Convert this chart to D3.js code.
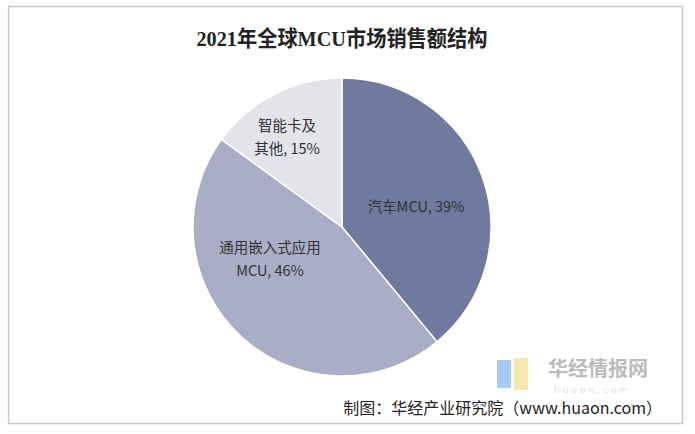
<!DOCTYPE html>
<html><head><meta charset="utf-8">
<script src="https://cdn.jsdelivr.net/npm/d3@7"></script>
<style>body{margin:0;background:#fff;}</style>
</head><body>
<script>
var labels = [["汽车MCU, 39%"], ["通用嵌入式应用", "MCU, 46%"], ["智能卡及", "其他, 15%"]];
var values = [39, 46, 15];
var colors = ["#6f7a9e", "#a9aec6", "#e3e4ea"];

var svg = d3.select("body").append("svg").attr("width", 695).attr("height", 434);

svg.append("rect").attr("x", 8.5).attr("y", 6.5).attr("width", 674).attr("height", 417)
	.attr("fill", "#fff").style("stroke", "#c8c8c8").style("stroke-width", 1.5);

svg.append("text").attr("x", 342).attr("y", 46).attr("text-anchor", "middle")
	.attr("font-family", "Liberation Serif, Noto Sans CJK SC").attr("font-weight", "bold")
	.style("font-size", "22px").attr("fill", "#222")
	.attr("transform", "translate(342,0) scale(0.92,1) translate(-342,0)")
	.text("2021年全球MCU市场销售额结构");

var cx = 342, cy = 227, r = 149;
var pie = d3.pie().sort(null)(values);
var arc = d3.arc().innerRadius(0).outerRadius(r);
var g = svg.append("g").attr("transform", "translate(" + cx + "," + cy + ")");
g.selectAll("path").data(pie).enter().append("path")
	.attr("d", arc).attr("fill", function(d, i){ return colors[i]; })
	.style("stroke", "#fff").style("stroke-width", 1.5);

// label positions relative to center
var labelPos = [[74, -15], [-72, 26], [-55, -96]];
pie.forEach(function(d, i){
	var t = g.append("text").attr("text-anchor", "middle")
		.attr("font-family", "Noto Sans CJK SC").style("font-size", "14.5px").attr("fill", "#333");
	labels[i].forEach(function(s, j){
		t.append("tspan").attr("x", labelPos[i][0]).attr("y", labelPos[i][1] + j * 23).text(s);
	});
});

// watermark
svg.append("rect").attr("x", 497).attr("y", 360).attr("width", 14).attr("height", 28).attr("fill", "#8fbef0").attr("opacity", 0.8);
svg.append("rect").attr("x", 514).attr("y", 358).attr("width", 14).attr("height", 32).attr("fill", "#f3e49a").attr("opacity", 0.8);
svg.append("text").attr("x", 548).attr("y", 376).attr("font-family", "Noto Sans CJK SC").attr("font-weight", "bold")
	.style("font-size", "20px").attr("fill", "#bbb").text("华经情报网");
svg.append("text").attr("x", 554).attr("y", 393).attr("font-family", "DejaVu Sans")
	.style("font-size", "9px").attr("fill", "#e2e2e2").attr("letter-spacing", "3px").text("huaon.com");

svg.append("text").attr("x", 662).attr("y", 414).attr("text-anchor", "end")
	.attr("font-family", "Noto Sans CJK SC").style("font-size", "16px").attr("fill", "#222")
	.text("制图：华经产业研究院（www.huaon.com）");
</script>
</body></html>
